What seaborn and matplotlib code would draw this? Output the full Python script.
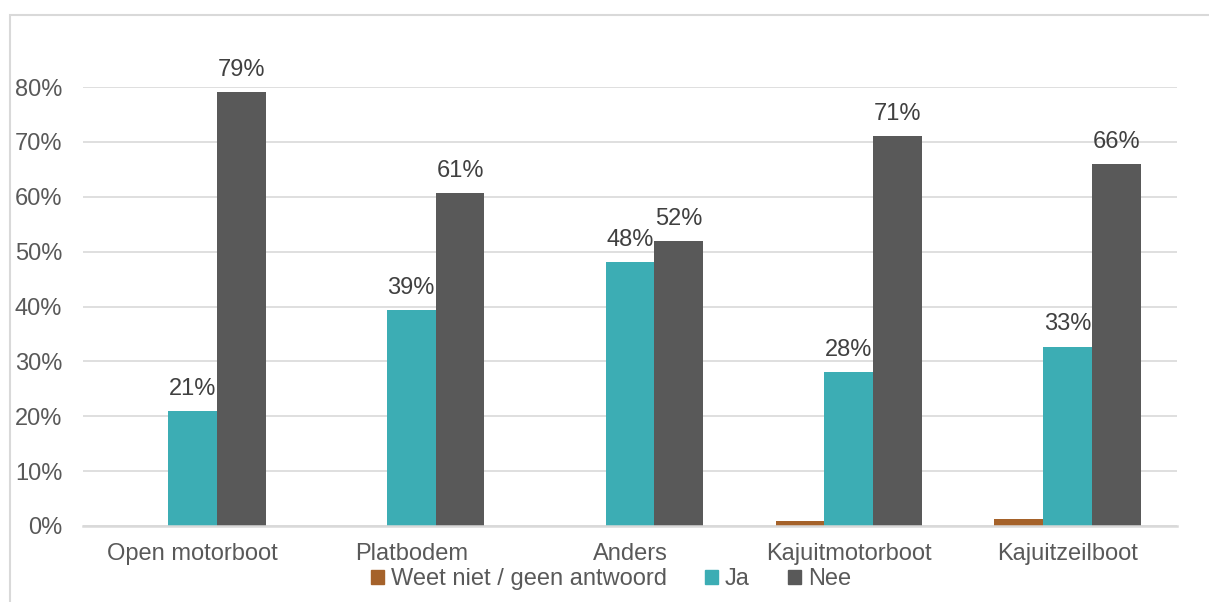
import matplotlib
matplotlib.use("Agg")
import matplotlib.pyplot as plt
import matplotlib.patches as mpatches
import matplotlib.ticker as mticker
import seaborn as sns
import pandas as pd

categories = ["Open motorboot", "Platbodem", "Anders", "Kajuitmotorboot", "Kajuitzeilboot"]
series = ["Weet niet / geen antwoord", "Ja", "Nee"]
weet_niet = [0.0, 0.0, 0.0, 0.009, 0.013]
ja = [0.21, 0.393, 0.481, 0.28, 0.327]
nee = [0.79, 0.607, 0.519, 0.71, 0.66]
colors = ["#A5622A", "#3CADB4", "#595959"]
text_color = "#595959"
grid_color = "#D9D9D9"

rows = []
for name, vals in zip(series, [weet_niet, ja, nee]):
    for cat, v in zip(categories, vals):
        rows.append({"Boot": cat, "Antwoord": name, "Aandeel": v})
df = pd.DataFrame(rows)

sns.set_theme(style="white")
plt.rcParams["font.family"] = ["Liberation Sans", "DejaVu Sans"]

fig = plt.figure(figsize=(12.09, 6.02), dpi=100)
ax = fig.add_axes([83 / 1209, 1 - 526 / 602, (1177 - 83) / 1209, (526 - 87) / 602])

sns.barplot(data=df, x="Boot", y="Aandeel", hue="Antwoord", order=categories,
            hue_order=series, palette=colors, width=0.67, gap=0, linewidth=0,
            saturation=1, ax=ax, legend=True)

ax.set_ylim(0, 0.8)
ax.set_xlim(-0.5, len(categories) - 0.5)
ax.yaxis.set_major_locator(mticker.MultipleLocator(0.1))
ax.yaxis.set_major_formatter(mticker.FuncFormatter(lambda v, p: f"{v * 100:.0f}%"))
ax.grid(axis="y", color=grid_color, linewidth=1.2)
ax.set_axisbelow(True)
for side in ["top", "right", "left"]:
    ax.spines[side].set_visible(False)
ax.spines["bottom"].set_color(grid_color)
ax.spines["bottom"].set_linewidth(1.8)
ax.set_xlabel("")
ax.set_ylabel("")
ax.tick_params(axis="y", length=0, pad=15, labelsize=17, labelcolor=text_color)
ax.tick_params(axis="x", length=0, pad=12, labelsize=17, labelcolor=text_color)

# value labels on the Ja and Nee bars
for cont in ax.containers[1:]:
    ax.bar_label(cont, labels=[f"{b.get_height() * 100:.0f}%" for b in cont],
                 padding=8, fontsize=17, color="#404040")

handles = [mpatches.Patch(color=c) for c in colors]
ax.legend(handles, series, loc="center", bbox_to_anchor=(611 / 1209, 1 - 579 / 602),
          bbox_transform=fig.transFigure, ncol=3, frameon=False, fontsize=17,
          labelcolor=text_color, handlelength=0.55, handleheight=0.55,
          handletextpad=0.3, columnspacing=1.6, borderpad=0)

# outer chart frame
fig.patches.append(mpatches.Rectangle((10 / 1209, -0.1), 1.2, 0.1 + (602 - 15) / 602,
                                      transform=fig.transFigure, fill=False,
                                      edgecolor=grid_color, linewidth=1.5))

fig.savefig("out.png", dpi=100)
